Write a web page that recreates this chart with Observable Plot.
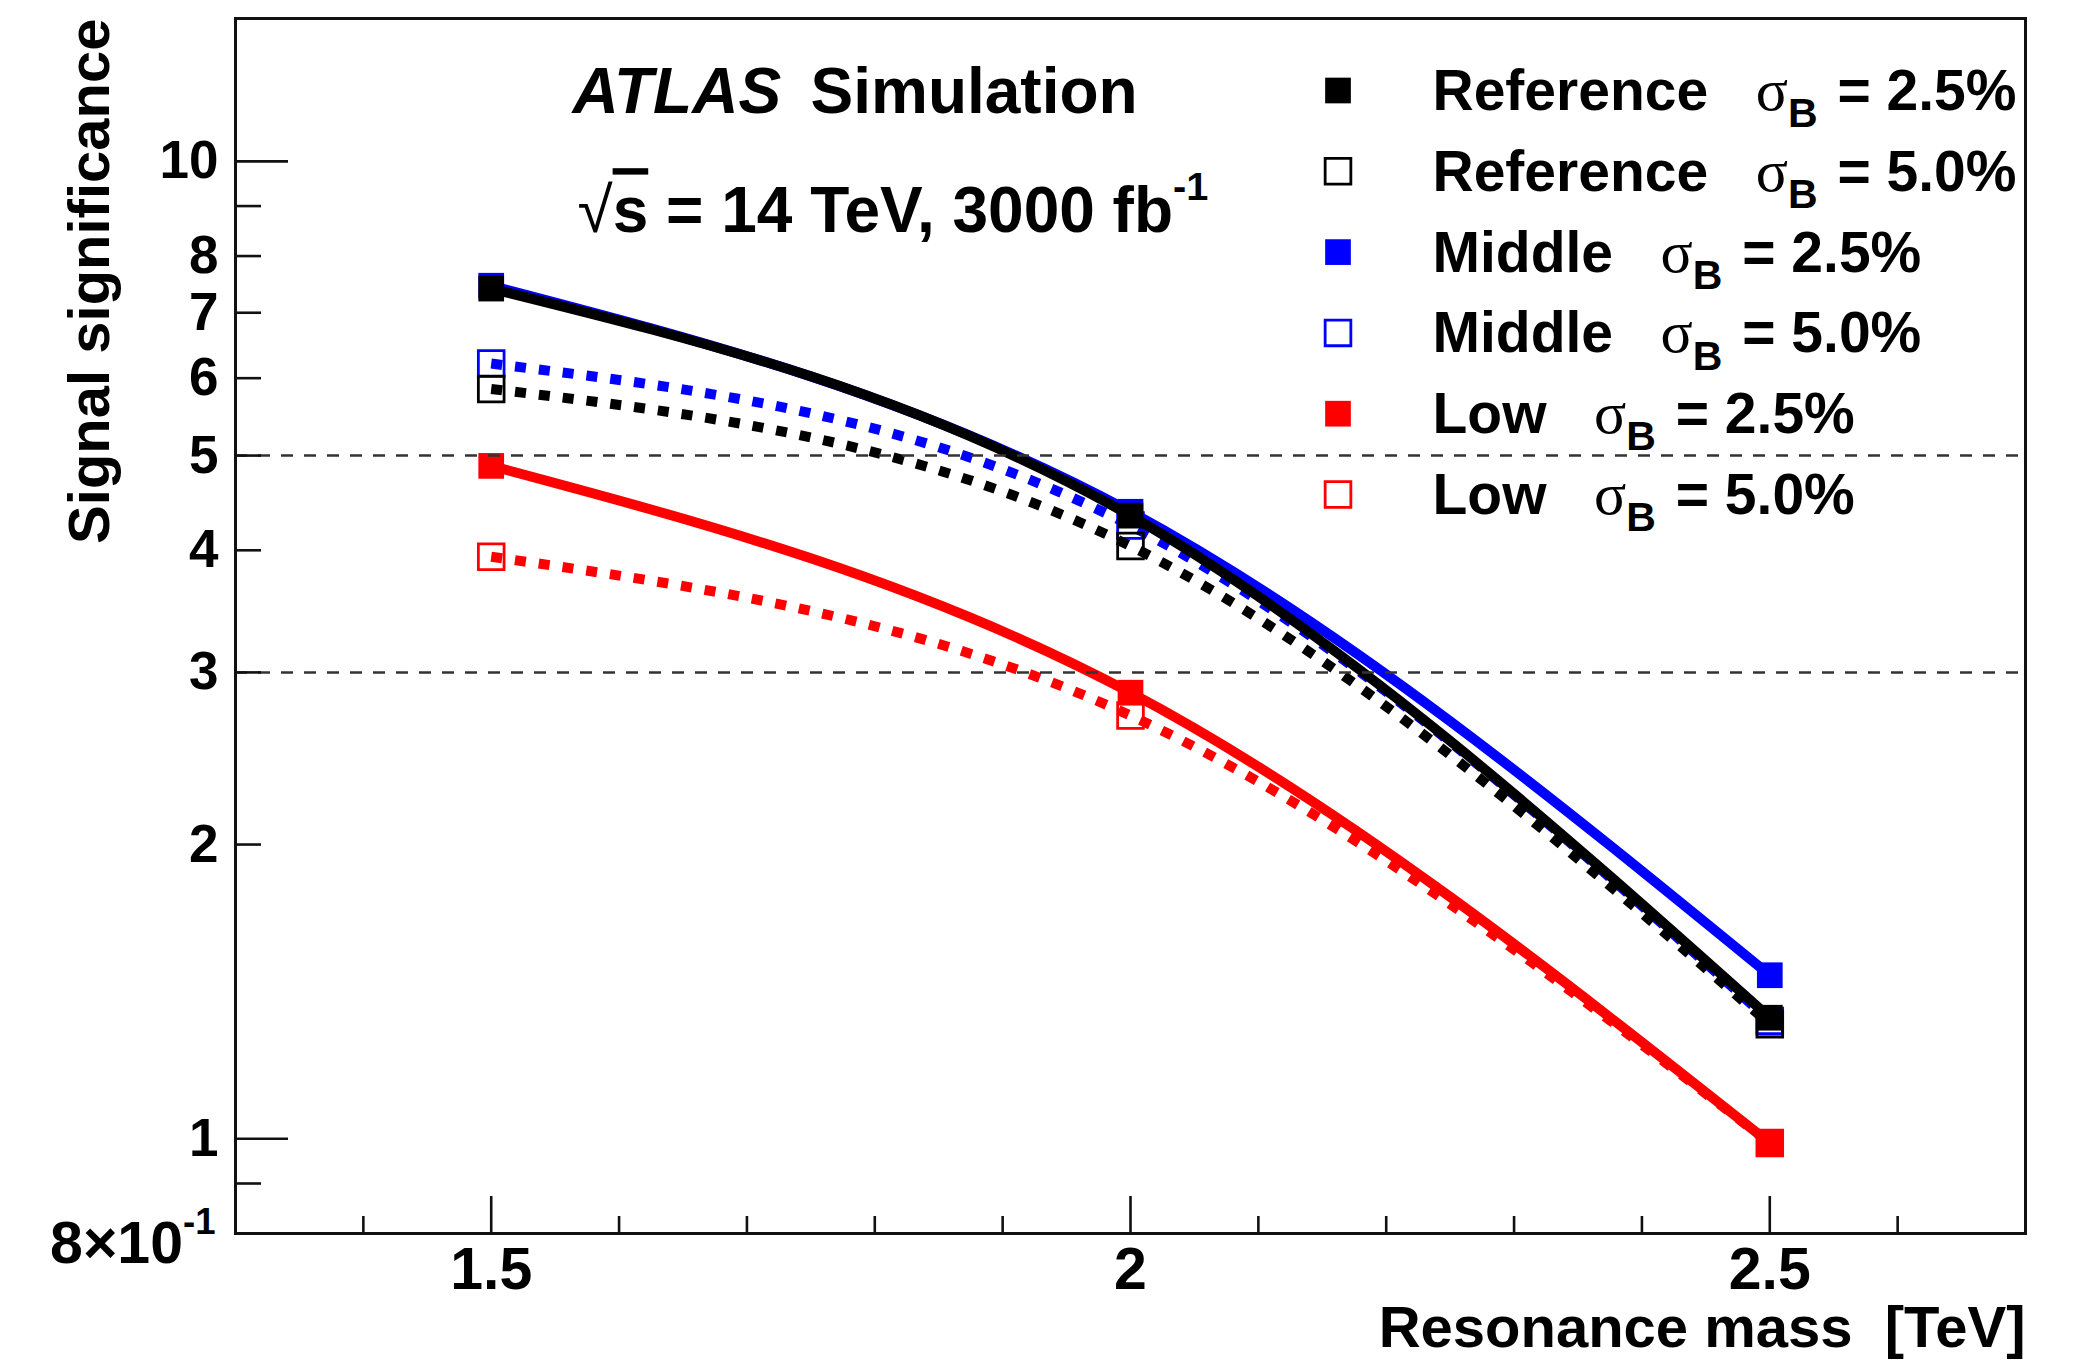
<!DOCTYPE html>
<html>
<head>
<meta charset="utf-8">
<script src="https://cdn.jsdelivr.net/npm/d3@7"></script>
<script src="https://cdn.jsdelivr.net/npm/@observablehq/plot@0.6"></script>
<style>
html, body { margin: 0; padding: 0; background: #fff; }
svg text { white-space: pre; }
</style>
</head>
<body>
<div id="chart"></div>
<script>
// ---- data ----
const masses = [1.5, 2.0, 2.5];
const ref25 = [7.41, 4.34, 1.33];
const ref50 = [5.85, 4.04, 1.31];
const mid25 = [7.46, 4.38, 1.47];
const mid50 = [6.21, 4.24, 1.32];
const low25 = [4.88, 2.86, 0.99];
const low50 = [3.94, 2.71, 0.99];

const seriesNames = ["Reference", "Reference", "Middle", "Middle", "Low", "Low"];
const sigmaB = ["2.5", "5.0", "2.5", "5.0", "2.5", "5.0"];
const thresholds = [3, 5];

const yMajorTicks = [1, 10];
const yMinorTicks = [0.9, 2, 3, 4, 5, 6, 7, 8, 9];
const yLabelTicks = [1, 2, 3, 4, 5, 6, 7, 8, 10];
const yBottomLabel = [0.8];
const xMajorTicks = [1.5, 2, 2.5];
const xMinorTicks = [1.4, 1.6, 1.7, 1.8, 1.9, 2.1, 2.2, 2.3, 2.4, 2.6];

// ---- styles ----
const values = [ref25, ref50, mid25, mid50, low25, low50];
const colors = ["#000000", "#000000", "#0000ff", "#0000ff", "#ff0000", "#ff0000"];
const filled = [true, false, true, false, true, false];
const drawOrder = [5, 4, 3, 2, 1, 0];
const fontFamily = '"Liberation Sans", Arial, Helvetica, sans-serif';

const rows = values.flatMap((vals, s) => masses.map((m, i) => ({s, mass: m, sig: vals[i]})));

const dataMarks = drawOrder.flatMap(s => {
  const d = rows.filter(r => r.s === s);
  const lineOpts = {x: "mass", y: "sig", stroke: colors[s], strokeWidth: 10, curve: "natural",
    strokeLinecap: "butt", strokeLinejoin: "round"};
  if (!filled[s]) lineOpts.strokeDasharray = "11 13";
  return [
    Plot.line(d, lineOpts),
    Plot.dot(d, {x: "mass", y: "sig", symbol: "square", r: 14.5,
      fill: filled[s] ? colors[s] : "none", stroke: filled[s] ? "none" : colors[s], strokeWidth: 2.8})
  ];
});

const legendMarks = [0, 1, 2, 3, 4, 5].flatMap(s => [
  Plot.dot([s], {x: null, y: null, frameAnchor: "top-left", dx: 1102.5, dy: 72 + s * 80.8,
    symbol: "square", r: 14.5, fill: filled[s] ? colors[s] : "none",
    stroke: filled[s] ? "none" : colors[s], strokeWidth: 2.8}),
  Plot.text([`${seriesNames[s]}   σ_{B} = ${sigmaB[s]}%`], {x: null, y: null, text: d => d,
    frameAnchor: "top-left", dx: 1197, dy: 91.5 + s * 80.8, textAnchor: "start", lineAnchor: "bottom",
    fontSize: 57, fontWeight: "bold", fill: "black"})
]);

const txt = (str, o) => Plot.text([str], Object.assign({x: null, y: null, text: d => d, fill: "black",
  textAnchor: "start", lineAnchor: "bottom", fontWeight: "bold"}, o));

const annotations = [
  txt("ATLAS", {frameAnchor: "top-left", dx: 337, dy: 94, fontSize: 64, fontStyle: "italic"}),
  txt("Simulation", {frameAnchor: "top-left", dx: 575, dy: 94, fontSize: 64}),
  txt("√s = 14 TeV, 3000 fb^{-1}", {frameAnchor: "top-left", dx: 342, dy: 213.7, fontSize: 64}),
  txt("Signal significance", {frameAnchor: "top-left", dx: -126.5, dy: 0, rotate: -90, textAnchor: "end", fontSize: 58}),
  txt("Resonance mass  [TeV]", {frameAnchor: "bottom-right", dx: 0, dy: 113, textAnchor: "end", fontSize: 58})
];

const tickStroke = {stroke: "#111", strokeWidth: 2.6, fill: "none", label: null};

const chart = Plot.plot({
  width: 2075,
  height: 1361,
  marginTop: 18,
  marginBottom: 128,
  marginLeft: 235,
  marginRight: 50,
  x: {domain: [1.3, 2.7]},
  y: {type: "log", domain: [0.8, 14]},
  style: {fontFamily, background: "white", color: "black", overflow: "visible"},
  marks: [
    ...dataMarks,
    Plot.ruleY(thresholds, {stroke: "#333", strokeWidth: 2.5, strokeDasharray: "12 11"}),
    Plot.axisY({ticks: yMajorTicks, tickSize: 53, dx: 53, ...tickStroke}),
    Plot.axisY({ticks: yMinorTicks, tickSize: 26, dx: 26, ...tickStroke}),
    Plot.axisY({ticks: yLabelTicks, tickSize: 0, tickPadding: 17, label: null, fill: "black",
      fontSize: 53, fontWeight: "bold", tickFormat: d => String(d)}),
    Plot.axisY({ticks: yBottomLabel, tickSize: 0, tickPadding: 20, dy: 11, label: null, fill: "black",
      fontSize: 59, fontWeight: "bold", tickFormat: () => "8×10^{-1}"}),
    Plot.axisX({ticks: xMajorTicks, tickSize: 37, dy: -37, ...tickStroke}),
    Plot.axisX({ticks: xMinorTicks, tickSize: 17, dy: -17, ...tickStroke}),
    Plot.axisX({ticks: xMajorTicks, tickSize: 0, tickPadding: 14, label: null, fill: "black",
      fontSize: 59, fontWeight: "bold", tickFormat: d => String(d)}),
    Plot.frame({stroke: "#111", strokeWidth: 3}),
    ...legendMarks,
    ...annotations
  ]
});

document.getElementById("chart").appendChild(chart);

// ---- rich text: superscripts ^{..}, subscripts _{..}, symbol glyphs ----
function richText(root) {
  const NS = "http://www.w3.org/2000/svg";
  root.querySelectorAll("text").forEach(el => {
    const s = el.textContent;
    if (!/[\^_]\{|[σ√]/.test(s)) return;
    const tokens = [];
    const re = /([\^_])\{([^}]*)\}|([σ√])/g;
    let last = 0, m;
    while ((m = re.exec(s))) {
      if (m.index > last) tokens.push({t: s.slice(last, m.index), k: ""});
      if (m[3]) tokens.push({t: m[3], k: "sym"});
      else tokens.push({t: m[2], k: m[1]});
      last = re.lastIndex;
    }
    if (last < s.length) tokens.push({t: s.slice(last), k: ""});
    while (el.firstChild) el.removeChild(el.firstChild);
    const fs = parseFloat(getComputedStyle(el).fontSize) || 50;
    let shift = 0;
    const add = (t, target, attrs) => {
      const ts = document.createElementNS(NS, "tspan");
      ts.textContent = t;
      const dy = target - shift;
      if (dy) ts.setAttribute("dy", dy);
      shift = target;
      for (const [k, v] of Object.entries(attrs || {})) ts.setAttribute(k, v);
      el.appendChild(ts);
    };
    tokens.forEach((tk, i) => {
      const prev = tokens[i - 1];
      if (tk.k === "^") add(tk.t, -0.5 * fs, {"font-size": 0.62 * fs});
      else if (tk.k === "_") add(tk.t, 0.3 * fs, {"font-size": 0.72 * fs});
      else if (tk.k === "sym") {
        if (tk.t === "σ") add(tk.t, 0, {"font-weight": "normal", "font-family": '"Liberation Serif", "Times New Roman", serif', "font-size": 1.05 * fs});
        else add(tk.t, 0, {"font-weight": "normal"});
      } else if (prev && prev.t === "√") {
        add(tk.t.slice(0, 1), 0, {"text-decoration": "overline"});
        add(tk.t.slice(1), 0);
      } else if (prev && prev.k === "_") {
        add(tk.t, 0, {dx: 4});
      } else add(tk.t, 0);
    });
  });
}
richText(chart);
</script>
</body>
</html>
